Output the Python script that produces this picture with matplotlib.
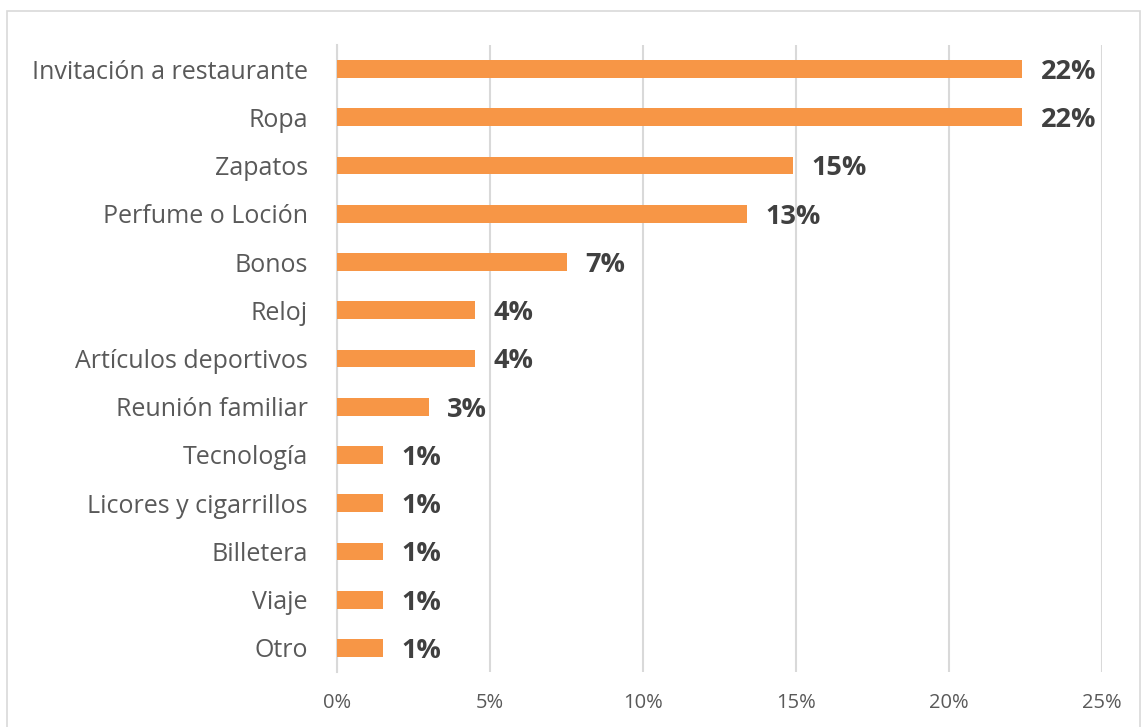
import matplotlib.pyplot as plt
from matplotlib.patches import Rectangle

categorias = ["Invitación a restaurante", "Ropa", "Zapatos", "Perfume o Loción", "Bonos",
              "Reloj", "Artículos deportivos", "Reunión familiar", "Tecnología",
              "Licores y cigarrillos", "Billetera", "Viaje", "Otro"]
valores = [22.4, 22.4, 14.9, 13.4, 7.5, 4.5, 4.5, 3.0, 1.5, 1.5, 1.5, 1.5, 1.5]
etiquetas = ["22%", "22%", "15%", "13%", "7%", "4%", "4%", "3%", "1%", "1%", "1%", "1%", "1%"]
ticks = [0, 5, 10, 15, 20, 25]

plt.rcParams['font.family'] = ['Open Sans', 'DejaVu Sans']

fig = plt.figure(figsize=(11.45, 7.27), dpi=100)
ax = fig.add_axes([337/1145, 1-672/727, (1102-337)/1145, (672-45)/727])

y = list(range(len(categorias)))
ax.barh(y, valores, height=0.37, color="#F79646", zorder=3)
for yi, v, t in zip(y, valores, etiquetas):
    ax.text(v + 0.6, yi + 0.06, t, va="center", ha="left", fontsize=19.5,
            fontweight="bold", color="#404040")

ax.set_ylim(len(categorias) - 0.5, -0.5)
ax.set_xlim(0, 25)
ax.set_xticks(ticks)
ax.set_xticklabels([f"{t}%" for t in ticks], fontsize=14.5, color="#595959")
ax.set_yticks(y)
ax.set_yticklabels(categorias, fontsize=18, color="#595959")
ax.tick_params(axis="both", length=0)
ax.tick_params(axis="x", pad=15)
ax.tick_params(axis="y", pad=21)
ax.grid(axis="x", color="#D9D9D9", linewidth=1.5, zorder=0)
for s in ["top", "right", "bottom"]:
    ax.spines[s].set_visible(False)
ax.spines["left"].set_color("#D9D9D9")
ax.spines["left"].set_linewidth(1.5)

fig.patches.append(Rectangle((7/1145, -0.01), (1140-7)/1145, 1.01 - 11/727,
                             transform=fig.transFigure, fill=False,
                             edgecolor="#D9D9D9", linewidth=1.2))

fig.savefig("out.png", dpi=100)
